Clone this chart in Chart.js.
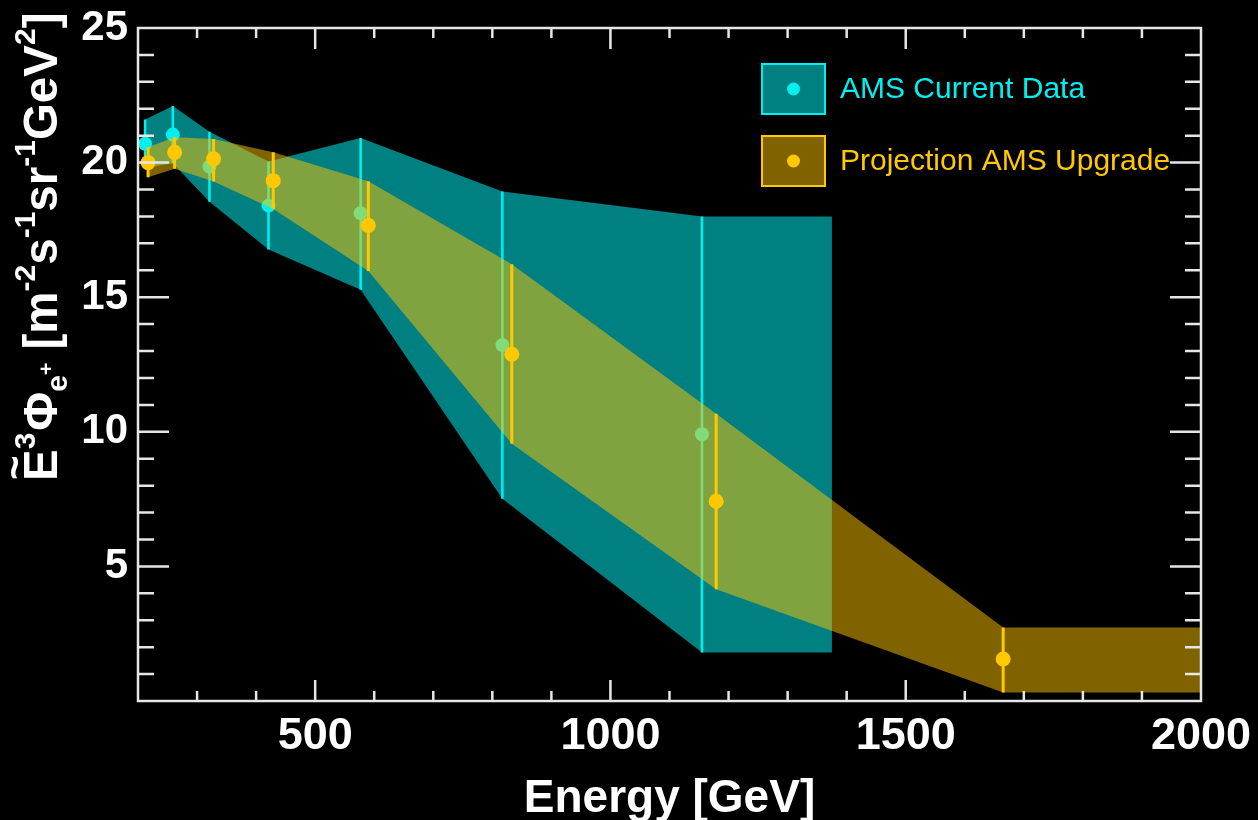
<!DOCTYPE html>
<html>
<head>
<meta charset="utf-8">
<script src="https://cdn.jsdelivr.net/npm/chart.js@4.4.0/dist/chart.umd.min.js"></script>
<style>
  html, body { margin: 0; padding: 0; background: #000; }
  #wrap { width: 1258px; height: 820px; position: relative; }
</style>
</head>
<body>
<div id="wrap"><canvas id="myChart"></canvas></div>
<script>
// AMS current data (energy in GeV, flux and error band)
const amsEnergy = [212, 259, 321, 421, 577, 817, 1155];
const amsFlux = [20.7, 21.04, 19.85, 18.4, 18.12, 13.22, 9.91];
const amsHigh = [21.6, 22.1, 21.15, 20.04, 20.91, 18.93, 18.0];
const amsLow = [19.8, 19.98, 18.55, 16.77, 15.28, 7.51, 1.8];
const amsBandEnd = 1375;

// projection for the AMS upgrade
const upEnergy = [217, 262, 328, 429, 590, 833, 1179, 1665];
const upFlux = [20.0, 20.38, 20.14, 19.33, 17.67, 12.88, 7.42, 1.56];
const upHigh = [20.57, 20.94, 20.88, 20.38, 19.31, 16.22, 10.67, 2.73];
const upLow = [19.46, 19.77, 19.3, 18.28, 15.97, 9.56, 4.15, 0.32];
const upBandEnd = 2000;

const xTicks = [500, 1000, 1500, 2000];
const yTicks = [5, 10, 15, 20, 25];
const legendLabels = ["AMS Current Data", "Projection AMS Upgrade"];

const FONT = "'Liberation Sans', Arial, Helvetica, sans-serif";
const CYAN = "#00f0f0";
const YELLOW = "#ffc800";
const CYAN_BAND = "rgba(0, 255, 255, 0.5)";
const YELLOW_BAND = "rgba(255, 198, 0, 0.5)";
const AXIS = "#e6e6e6";

function points(xs, ys) {
  return xs.map((x, i) => ({ x: x, y: ys[i] }));
}
function bandEdge(xs, ys, xEnd) {
  const pts = points(xs, ys);
  pts.push({ x: xEnd, y: ys[ys.length - 1] });
  return pts;
}
function errorBars(xs, lo, hi) {
  const pts = [];
  xs.forEach((x, i) => {
    pts.push({ x: x, y: lo[i] }, { x: x, y: hi[i] }, { x: x, y: null });
  });
  return pts;
}

const bgPlugin = {
  id: "bg",
  beforeDraw(chart) {
    const ctx = chart.ctx;
    ctx.save();
    ctx.fillStyle = "#000";
    ctx.fillRect(0, 0, chart.width, chart.height);
    ctx.restore();
  },
};

// legend boxes inside the plot, top right
const legendPlugin = {
  id: "boxLegend",
  afterDatasetsDraw(chart) {
    const ctx = chart.ctx;
    const a = chart.chartArea;
    const items = [
      { fill: CYAN_BAND, line: CYAN, text: legendLabels[0] },
      { fill: YELLOW_BAND, line: YELLOW, text: legendLabels[1] },
    ];
    ctx.save();
    items.forEach((it, i) => {
      const bx = a.left + 624;
      const by = a.top + 36 + i * 72;
      ctx.fillStyle = it.fill;
      ctx.fillRect(bx, by, 63, 50);
      ctx.strokeStyle = it.line;
      ctx.lineWidth = 2;
      ctx.strokeRect(bx, by, 63, 50);
      ctx.fillStyle = it.line;
      ctx.beginPath();
      ctx.arc(bx + 31.5, by + 25, 6.5, 0, Math.PI * 2);
      ctx.fill();
      ctx.font = "30px " + FONT;
      ctx.textBaseline = "middle";
      ctx.textAlign = "left";
      ctx.fillText(it.text, bx + 78, by + 26);
    });
    ctx.restore();
  },
};

// frame with inward ticks on all four sides
const framePlugin = {
  id: "frame",
  afterDraw(chart) {
    const ctx = chart.ctx;
    const a = chart.chartArea;
    const xs = chart.scales.x;
    const ys = chart.scales.y;
    ctx.save();
    ctx.strokeStyle = AXIS;
    ctx.lineWidth = 2.5;
    ctx.strokeRect(a.left, a.top, a.right - a.left, a.bottom - a.top);
    ctx.beginPath();
    for (let v = 300; v < 2000; v += 100) {
      const px = xs.getPixelForValue(v);
      const len = v % 500 === 0 ? 21 : 10;
      ctx.moveTo(px, a.bottom);
      ctx.lineTo(px, a.bottom - len);
      ctx.moveTo(px, a.top);
      ctx.lineTo(px, a.top + len);
    }
    for (let v = 1; v < 25; v++) {
      const py = ys.getPixelForValue(v);
      const len = v % 5 === 0 ? 31 : 16;
      ctx.moveTo(a.left, py);
      ctx.lineTo(a.left + len, py);
      ctx.moveTo(a.right, py);
      ctx.lineTo(a.right - len, py);
    }
    ctx.stroke();
    ctx.restore();
  },
};

// rotated y title with sub/superscripts
const yTitlePlugin = {
  id: "yTitle",
  afterDraw(chart) {
    const ctx = chart.ctx;
    const S = 47.5;
    const sup = 30;
    const parts = [
      { t: "E", s: S, dy: 0 },
      { t: "3", s: sup, dy: -22 },
      { t: "Φ", s: S, dy: 0, gap: 2 },
      { t: "e", s: sup, dy: 10 },
      { t: "+", s: 21, dy: -4 },
      { t: " [m", s: S, dy: 0 },
      { t: "-2", s: sup, dy: -22 },
      { t: "s", s: S, dy: 0 },
      { t: "-1", s: sup, dy: -22 },
      { t: "sr", s: S, dy: 0 },
      { t: "-1", s: sup, dy: -22 },
      { t: "GeV", s: S, dy: 0 },
      { t: "2", s: sup, dy: -22 },
      { t: "]", s: S, dy: 0 },
    ];
    ctx.save();
    ctx.translate(57, 481);
    ctx.rotate(-Math.PI / 2);
    ctx.fillStyle = "#fff";
    ctx.textBaseline = "alphabetic";
    ctx.textAlign = "left";
    let x = 0;
    // tilde over the E
    ctx.font = "bold 42px " + FONT;
    ctx.fillText("~", 1, -28);
    parts.forEach((p) => {
      ctx.font = "bold " + p.s + "px " + FONT;
      x += p.gap || 0;
      ctx.fillText(p.t, x, p.dy);
      x += ctx.measureText(p.t).width;
    });
    ctx.restore();
  },
};

const data = {
  datasets: [
    {
      label: legendLabels[1],
      data: points(upEnergy, upFlux),
      showLine: false,
      pointRadius: 7.5,
      pointBorderWidth: 0,
      pointBackgroundColor: YELLOW,
      order: 0,
    },
    {
      label: "upgrade errors",
      data: errorBars(upEnergy, upLow, upHigh),
      showLine: true,
      spanGaps: false,
      borderColor: YELLOW,
      borderWidth: 3,
      pointRadius: 0,
      order: 1,
    },
    {
      label: "upgrade band top",
      data: bandEdge(upEnergy, upHigh, upBandEnd),
      showLine: true,
      borderColor: "transparent",
      borderWidth: 1,
      pointRadius: 0,
      fill: "+1",
      backgroundColor: YELLOW_BAND,
      order: 2,
    },
    {
      label: "upgrade band bottom",
      data: bandEdge(upEnergy, upLow, upBandEnd),
      showLine: true,
      borderColor: "transparent",
      borderWidth: 1,
      pointRadius: 0,
      order: 3,
    },
    {
      label: legendLabels[0],
      data: points(amsEnergy, amsFlux),
      showLine: false,
      pointRadius: 7,
      pointBorderWidth: 0,
      pointBackgroundColor: CYAN,
      order: 4,
    },
    {
      label: "ams errors",
      data: errorBars(amsEnergy, amsLow, amsHigh),
      showLine: true,
      spanGaps: false,
      borderColor: CYAN,
      borderWidth: 2.5,
      pointRadius: 0,
      order: 5,
    },
    {
      label: "ams band top",
      data: bandEdge(amsEnergy, amsHigh, amsBandEnd),
      showLine: true,
      borderColor: "transparent",
      borderWidth: 1,
      pointRadius: 0,
      fill: "+1",
      backgroundColor: CYAN_BAND,
      order: 6,
    },
    {
      label: "ams band bottom",
      data: bandEdge(amsEnergy, amsLow, amsBandEnd),
      showLine: true,
      borderColor: "transparent",
      borderWidth: 1,
      pointRadius: 0,
      order: 7,
    },
  ],
};

const config = {
  type: "scatter",
  data,
  options: {
    responsive: true,
    maintainAspectRatio: false,
    animation: false,
    layout: { padding: { left: 0, right: 57, top: 28, bottom: 0 } },
    elements: { line: { tension: 0 } },
    plugins: {
      legend: { display: false },
      tooltip: { enabled: false },
    },
    scales: {
      x: {
        type: "linear",
        min: 200,
        max: 2000,
        afterBuildTicks: (s) => {
          s.ticks = xTicks.map((v) => ({ value: v }));
        },
        afterFit: (s) => {
          s.height = 119;
          s.paddingLeft = 0;
          s.paddingRight = 0;
        },
        grid: { display: false, drawTicks: false },
        border: { display: false },
        ticks: {
          color: "#fff",
          padding: 9,
          maxRotation: 0,
          callback: (v) => String(v),
          font: { family: FONT, size: 45, weight: "bold" },
        },
        title: {
          display: true,
          text: "Energy [GeV]",
          color: "#fff",
          padding: { top: 0, bottom: -7 },
          font: { family: FONT, size: 46, weight: "bold" },
        },
      },
      y: {
        min: 0,
        max: 25,
        afterBuildTicks: (s) => {
          s.ticks = yTicks.map((v) => ({ value: v }));
        },
        afterFit: (s) => {
          s.width = 138;
          s.paddingTop = 0;
          s.paddingBottom = 0;
        },
        grid: { display: false, drawTicks: false },
        border: { display: false },
        ticks: {
          color: "#fff",
          padding: 10,
          callback: (v) => String(v),
          font: { family: FONT, size: 42, weight: "bold" },
        },
      },
    },
  },
  plugins: [bgPlugin, legendPlugin, framePlugin, yTitlePlugin],
};

const myChart = new Chart(document.getElementById("myChart"), config);
</script>
</body>
</html>
